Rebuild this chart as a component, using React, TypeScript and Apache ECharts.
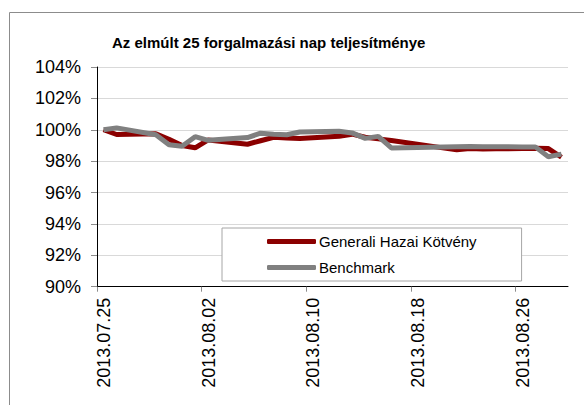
import React, { useEffect, useRef } from "react";
import * as echarts from "echarts";

const dates = [
  "2013.07.25", "2013.07.26", "2013.07.29", "2013.07.30", "2013.07.31",
  "2013.08.01", "2013.08.02", "2013.08.05", "2013.08.06", "2013.08.07",
  "2013.08.08", "2013.08.09", "2013.08.12", "2013.08.13", "2013.08.14",
  "2013.08.15", "2013.08.16", "2013.08.21", "2013.08.22", "2013.08.23",
  "2013.08.24", "2013.08.26", "2013.08.27", "2013.08.28", "2013.08.29",
];
const fundValues = [
  100.0, 99.7, 99.75, 99.4, 99.0,
  98.85, 99.35, 99.08, 99.3, 99.52,
  99.48, 99.45, 99.58, 99.72, 99.52,
  99.42, 99.32, 98.72, 98.8, 98.78,
  98.79, 98.8, 98.82, 98.8, 98.25,
];
const benchValues = [
  100.0, 100.12, 99.68, 99.05, 98.95,
  99.56, 99.33, 99.5, 99.78, 99.72,
  99.68, 99.86, 99.9, 99.8, 99.45,
  99.58, 98.84, 98.92, 98.93, 98.92,
  98.92, 98.91, 98.91, 98.28, 98.45,
];
const seriesNames = ["Generali Hazai Kötvény", "Benchmark"];
const titleText = "Az elmúlt 25 forgalmazási nap teljesítménye";

const AXIS_START = "2013.07.25";
const AXIS_END = "2013.08.30";
const DAY = 86400000;

function parseDate(s: string): number {
  const [y, m, d] = s.split(".").map(Number);
  return Date.UTC(y, m - 1, d);
}
const base = parseDate(AXIS_START);
const dayOffset = (s: string) => (parseDate(s) - base) / DAY;
const pad = (n: number) => (n < 10 ? "0" + n : "" + n);
function formatOffset(v: number): string {
  const d = new Date(base + Math.round(v) * DAY);
  return `${d.getUTCFullYear()}.${pad(d.getUTCMonth() + 1)}.${pad(d.getUTCDate())}`;
}

const FONT = "'Liberation Sans', Arial, Helvetica, sans-serif";

export default function App() {
  const ref = useRef<HTMLDivElement>(null);
  useEffect(() => {
    document.body.style.margin = "0";
    if (!ref.current) return;
    const chart = echarts.init(ref.current, null, { renderer: "svg" });
    const fundData = dates.map((d, i) => [dayOffset(d) + 0.5, fundValues[i]]);
    const benchData = dates.map((d, i) => [dayOffset(d) + 0.5, benchValues[i]]);
    chart.setOption({
      animation: false,
      backgroundColor: "#ffffff",
      textStyle: { fontFamily: FONT },
      graphic: [
        {
          type: "rect",
          shape: { x: 9.5, y: 12.5, width: 620, height: 430 },
          style: { fill: "none", stroke: "#8c8c8c", lineWidth: 1 },
          silent: true,
          z: -10,
        },
      ],
      title: {
        text: titleText,
        left: 112,
        top: 35,
        padding: 0,
        textStyle: { fontFamily: FONT, fontSize: 15, fontWeight: "bold", color: "#000" },
      },
      legend: {
        orient: "vertical",
        left: 222,
        top: 228,
        padding: [6, 45, 6, 45],
        itemGap: 11,
        itemWidth: 49,
        itemHeight: 5,
        icon: "roundRect",
        backgroundColor: "#ffffff",
        borderColor: "#a6a6a6",
        borderWidth: 1,
        textStyle: { fontFamily: FONT, fontSize: 15, color: "#000", padding: [0, 0, 0, -2] },
        data: seriesNames,
        z: 10,
      },
      grid: { left: 97, top: 67, width: 471, height: 219.7, containLabel: false },
      xAxis: {
        type: "value",
        min: 0,
        max: dayOffset(AXIS_END),
        interval: 8,
        axisLine: { show: true, onZero: false, lineStyle: { color: "#000", width: 1 } },
        axisTick: { show: true, length: 5, lineStyle: { color: "#8c8c8c" } },
        splitLine: { show: false },
        axisLabel: {
          rotate: 90,
          margin: 11,
          fontFamily: FONT,
          fontSize: 18,
          color: "#000",
          verticalAlign: "top",
          lineHeight: 14,
          showMaxLabel: false,
          formatter: (v: number) => formatOffset(v),
        },
      },
      yAxis: {
        type: "value",
        min: 90,
        max: 104,
        interval: 2,
        axisLine: { show: true, lineStyle: { color: "#000", width: 1 } },
        axisTick: { show: true, length: 6, lineStyle: { color: "#8c8c8c" } },
        splitLine: { show: true, lineStyle: { color: "#d9d9d9", width: 1 } },
        axisLabel: {
          margin: 16,
          fontFamily: FONT,
          fontSize: 18,
          color: "#000",
          formatter: (v: number) => `${v}%`,
        },
      },
      series: [
        {
          name: seriesNames[0],
          type: "line",
          data: fundData,
          showSymbol: false,
          color: "#8b0000",
          lineStyle: { width: 5, color: "#8b0000" },
          z: 2,
        },
        {
          name: seriesNames[1],
          type: "line",
          data: benchData,
          showSymbol: false,
          color: "#808080",
          lineStyle: { width: 5, color: "#808080" },
          z: 3,
        },
      ],
    });
    return () => chart.dispose();
  }, []);
  return <div ref={ref} style={{ width: 584, height: 405 }} />;
}
